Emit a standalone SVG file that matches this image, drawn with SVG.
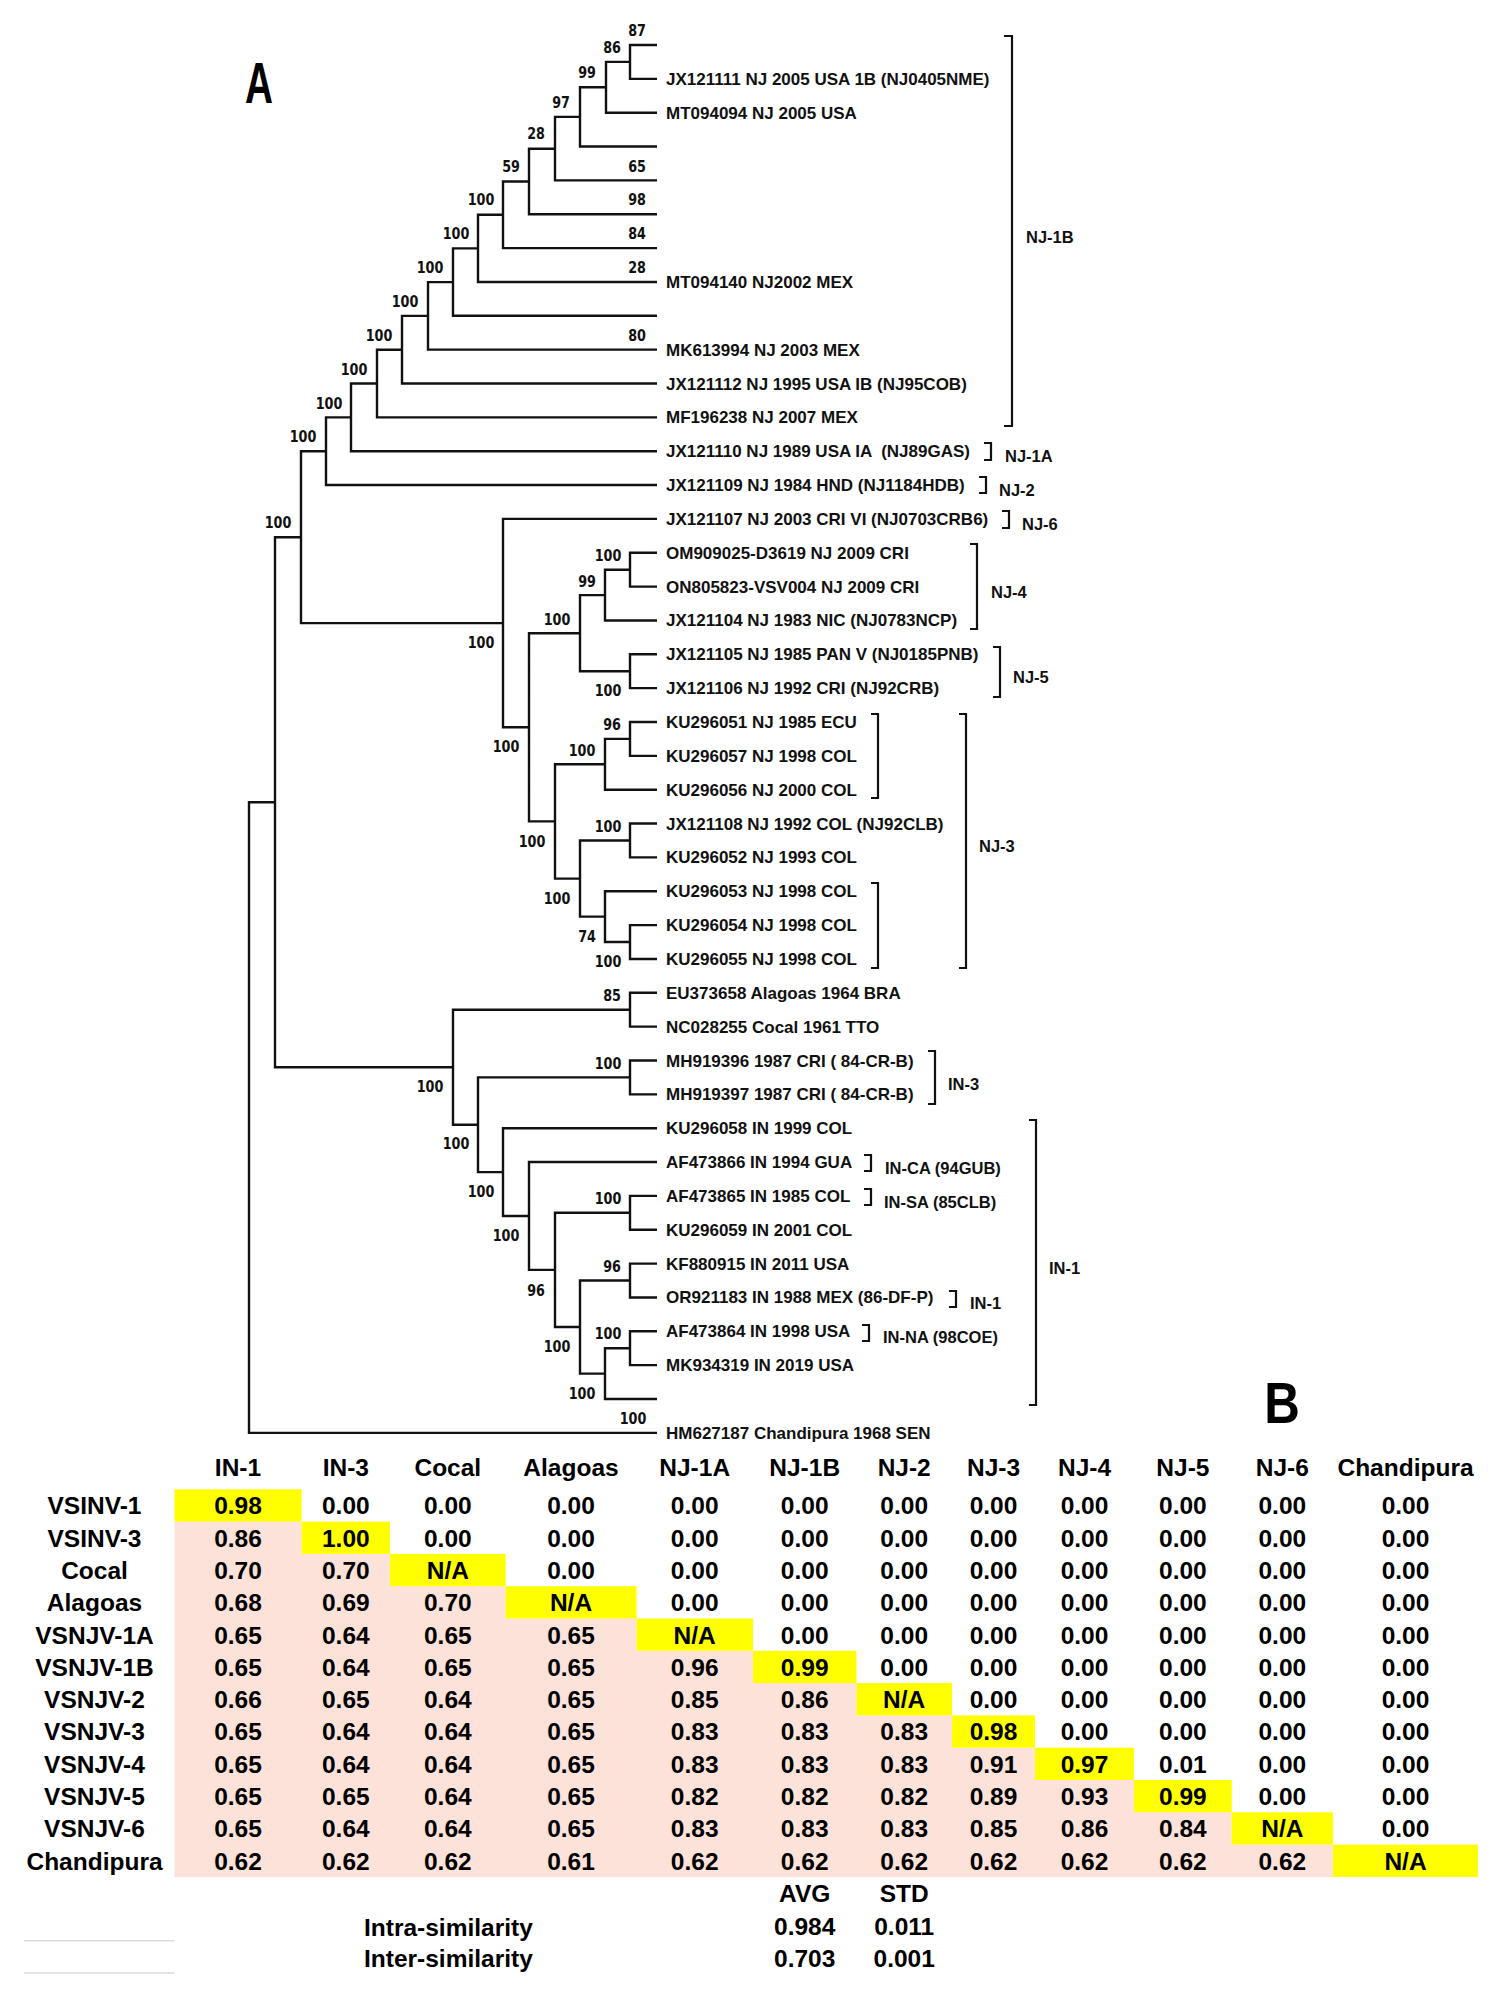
<svg xmlns="http://www.w3.org/2000/svg" width="1501" height="1998" viewBox="0 0 1501 1998">
<style>
.br{fill:none;stroke:#111;stroke-width:2.4;stroke-linejoin:miter}
.bk{fill:none;stroke:#111;stroke-width:2.2}
.lf{font-family:"Liberation Sans",Arial,sans-serif;font-weight:bold;font-size:17px;fill:#111;white-space:pre}
.bs{font-family:"DejaVu Sans",Verdana,sans-serif;font-weight:bold;font-size:16px;fill:#111;text-anchor:middle}
.gl{font-family:"Liberation Sans",Arial,sans-serif;font-weight:bold;font-size:16.5px;fill:#111}
.pl{font-family:"Liberation Sans",Arial,sans-serif;font-weight:bold;fill:#000;text-anchor:middle}
.t{font-family:"Liberation Sans",Arial,sans-serif;font-weight:bold;font-size:24.5px;fill:#000;text-anchor:middle}
</style>
<rect width="1501" height="1998" fill="#fff"/>
<text class="pl" font-size="57" transform="translate(259,103) scale(0.68,1)">A</text>
<text class="pl" font-size="58" transform="translate(1282,1423) scale(0.85,1)">B</text>

<g id="branches">
<path class="br" d="M657 45 H630 V78.85 H657
M630 61.9 H606 V112.7 H657
M606 87.3 H580 V146.55 H657
M580 116.9 H555 V180.4 H657
M555 148.7 H529 V214.25 H657
M529 181.5 H503 V248.1 H657
M503 214.8 H478 V281.95 H657
M478 248.4 H453 V315.8 H657
M453 282.1 H428 V349.65 H657
M428 315.9 H402 V383.5 H657
M402 349.7 H377 V417.35 H657
M377 383.5 H351 V451.2 H657
M351 417.4 H326 V485.05 H657
M326 451.2 H301 V623.1 H503
M657 518.9 H503 V727.3 H529
M580 633.2 H529 V821.4 H555
M605 595.1 H580 V671.2 H630
M630 569.7 H605 V620.45 H657
M657 552.75 H630 V586.6 H657
M657 654.3 H630 V688.15 H657
M605 764.3 H555 V878.6 H580
M630 738.9 H605 V789.7 H657
M657 722 H630 V755.85 H657
M630 840.5 H580 V916.6 H605
M657 823.55 H630 V857.4 H657
M657 891.25 H605 V942 H630
M657 925.1 H630 V958.95 H657
M301 537.2 H275 V1067.2 H453
M275 802.2 H249 V1432.85 H657
M630 1009.7 H453 V1124.8 H478
M657 992.8 H630 V1026.65 H657
M630 1077.4 H478 V1172.1 H503
M657 1060.5 H630 V1094.35 H657
M657 1128.2 H503 V1216 H529
M657 1162.05 H529 V1269.9 H555
M630 1212.8 H555 V1327 H580
M657 1195.9 H630 V1229.75 H657
M630 1280.5 H580 V1373.6 H605
M657 1263.6 H630 V1297.45 H657
M630 1348.2 H605 V1399 H657
M657 1331.3 H630 V1365.15 H657"/>
</g>

<g id="bootstrap">
<text class="bs" x="637" y="35.8" textLength="17.7" lengthAdjust="spacingAndGlyphs">87</text>
<text class="bs" x="612" y="52.8" textLength="17.7" lengthAdjust="spacingAndGlyphs">86</text>
<text class="bs" x="587" y="77.8" textLength="17.7" lengthAdjust="spacingAndGlyphs">99</text>
<text class="bs" x="561" y="107.8" textLength="17.7" lengthAdjust="spacingAndGlyphs">97</text>
<text class="bs" x="536" y="138.8" textLength="17.7" lengthAdjust="spacingAndGlyphs">28</text>
<text class="bs" x="637" y="171.8" textLength="17.7" lengthAdjust="spacingAndGlyphs">65</text>
<text class="bs" x="511" y="171.8" textLength="17.7" lengthAdjust="spacingAndGlyphs">59</text>
<text class="bs" x="637" y="204.8" textLength="17.7" lengthAdjust="spacingAndGlyphs">98</text>
<text class="bs" x="481" y="204.8" textLength="26.7" lengthAdjust="spacingAndGlyphs">100</text>
<text class="bs" x="637" y="238.8" textLength="17.7" lengthAdjust="spacingAndGlyphs">84</text>
<text class="bs" x="456" y="238.8" textLength="26.7" lengthAdjust="spacingAndGlyphs">100</text>
<text class="bs" x="637" y="272.8" textLength="17.7" lengthAdjust="spacingAndGlyphs">28</text>
<text class="bs" x="430" y="272.8" textLength="26.7" lengthAdjust="spacingAndGlyphs">100</text>
<text class="bs" x="405" y="306.8" textLength="26.7" lengthAdjust="spacingAndGlyphs">100</text>
<text class="bs" x="637" y="340.8" textLength="17.7" lengthAdjust="spacingAndGlyphs">80</text>
<text class="bs" x="379" y="340.8" textLength="26.7" lengthAdjust="spacingAndGlyphs">100</text>
<text class="bs" x="354" y="374.8" textLength="26.7" lengthAdjust="spacingAndGlyphs">100</text>
<text class="bs" x="329" y="408.8" textLength="26.7" lengthAdjust="spacingAndGlyphs">100</text>
<text class="bs" x="303" y="441.8" textLength="26.7" lengthAdjust="spacingAndGlyphs">100</text>
<text class="bs" x="278" y="527.8" textLength="26.7" lengthAdjust="spacingAndGlyphs">100</text>
<text class="bs" x="608" y="560.8" textLength="26.7" lengthAdjust="spacingAndGlyphs">100</text>
<text class="bs" x="587" y="586.8" textLength="17.7" lengthAdjust="spacingAndGlyphs">99</text>
<text class="bs" x="557" y="624.8" textLength="26.7" lengthAdjust="spacingAndGlyphs">100</text>
<text class="bs" x="481" y="647.8" textLength="26.7" lengthAdjust="spacingAndGlyphs">100</text>
<text class="bs" x="608" y="695.8" textLength="26.7" lengthAdjust="spacingAndGlyphs">100</text>
<text class="bs" x="612" y="729.8" textLength="17.7" lengthAdjust="spacingAndGlyphs">96</text>
<text class="bs" x="506" y="751.8" textLength="26.7" lengthAdjust="spacingAndGlyphs">100</text>
<text class="bs" x="582" y="755.8" textLength="26.7" lengthAdjust="spacingAndGlyphs">100</text>
<text class="bs" x="608" y="831.8" textLength="26.7" lengthAdjust="spacingAndGlyphs">100</text>
<text class="bs" x="532" y="846.8" textLength="26.7" lengthAdjust="spacingAndGlyphs">100</text>
<text class="bs" x="557" y="903.8" textLength="26.7" lengthAdjust="spacingAndGlyphs">100</text>
<text class="bs" x="587" y="941.8" textLength="17.7" lengthAdjust="spacingAndGlyphs">74</text>
<text class="bs" x="608" y="966.8" textLength="26.7" lengthAdjust="spacingAndGlyphs">100</text>
<text class="bs" x="612" y="1000.8" textLength="17.7" lengthAdjust="spacingAndGlyphs">85</text>
<text class="bs" x="608" y="1068.8" textLength="26.7" lengthAdjust="spacingAndGlyphs">100</text>
<text class="bs" x="430" y="1091.8" textLength="26.7" lengthAdjust="spacingAndGlyphs">100</text>
<text class="bs" x="456" y="1148.8" textLength="26.7" lengthAdjust="spacingAndGlyphs">100</text>
<text class="bs" x="481" y="1196.8" textLength="26.7" lengthAdjust="spacingAndGlyphs">100</text>
<text class="bs" x="608" y="1203.8" textLength="26.7" lengthAdjust="spacingAndGlyphs">100</text>
<text class="bs" x="506" y="1240.8" textLength="26.7" lengthAdjust="spacingAndGlyphs">100</text>
<text class="bs" x="612" y="1271.8" textLength="17.7" lengthAdjust="spacingAndGlyphs">96</text>
<text class="bs" x="536" y="1295.8" textLength="17.7" lengthAdjust="spacingAndGlyphs">96</text>
<text class="bs" x="608" y="1338.8" textLength="26.7" lengthAdjust="spacingAndGlyphs">100</text>
<text class="bs" x="557" y="1351.8" textLength="26.7" lengthAdjust="spacingAndGlyphs">100</text>
<text class="bs" x="582" y="1398.8" textLength="26.7" lengthAdjust="spacingAndGlyphs">100</text>
<text class="bs" x="633" y="1423.8" textLength="26.7" lengthAdjust="spacingAndGlyphs">100</text>
</g>

<g id="leaves">
<g id="leaf-JX121111"><text class="lf" x="666" y="84.85">JX121111 NJ 2005 USA 1B (NJ0405NME)</text></g>
<g id="leaf-MT094094"><text class="lf" x="666" y="118.7">MT094094 NJ 2005 USA</text></g>
<g id="leaf-MT094140"><text class="lf" x="666" y="287.95">MT094140 NJ2002 MEX</text></g>
<g id="leaf-MK613994"><text class="lf" x="666" y="355.65">MK613994 NJ 2003 MEX</text></g>
<g id="leaf-JX121112"><text class="lf" x="666" y="389.5">JX121112 NJ 1995 USA IB (NJ95COB)</text></g>
<g id="leaf-MF196238"><text class="lf" x="666" y="423.35">MF196238 NJ 2007 MEX</text></g>
<g id="leaf-JX121110"><text class="lf" x="666" y="457.2">JX121110 NJ 1989 USA IA  (NJ89GAS)</text></g>
<g id="leaf-JX121109"><text class="lf" x="666" y="491.05">JX121109 NJ 1984 HND (NJ1184HDB)</text></g>
<g id="leaf-JX121107"><text class="lf" x="666" y="524.9">JX121107 NJ 2003 CRI VI (NJ0703CRB6)</text></g>
<g id="leaf-OM909025"><text class="lf" x="666" y="558.75">OM909025-D3619 NJ 2009 CRI</text></g>
<g id="leaf-ON805823"><text class="lf" x="666" y="592.6">ON805823-VSV004 NJ 2009 CRI</text></g>
<g id="leaf-JX121104"><text class="lf" x="666" y="626.45">JX121104 NJ 1983 NIC (NJ0783NCP)</text></g>
<g id="leaf-JX121105"><text class="lf" x="666" y="660.3">JX121105 NJ 1985 PAN V (NJ0185PNB)</text></g>
<g id="leaf-JX121106"><text class="lf" x="666" y="694.15">JX121106 NJ 1992 CRI (NJ92CRB)</text></g>
<g id="leaf-KU296051"><text class="lf" x="666" y="728">KU296051 NJ 1985 ECU</text></g>
<g id="leaf-KU296057"><text class="lf" x="666" y="761.85">KU296057 NJ 1998 COL</text></g>
<g id="leaf-KU296056"><text class="lf" x="666" y="795.7">KU296056 NJ 2000 COL</text></g>
<g id="leaf-JX121108"><text class="lf" x="666" y="829.55">JX121108 NJ 1992 COL (NJ92CLB)</text></g>
<g id="leaf-KU296052"><text class="lf" x="666" y="863.4">KU296052 NJ 1993 COL</text></g>
<g id="leaf-KU296053"><text class="lf" x="666" y="897.25">KU296053 NJ 1998 COL</text></g>
<g id="leaf-KU296054"><text class="lf" x="666" y="931.1">KU296054 NJ 1998 COL</text></g>
<g id="leaf-KU296055"><text class="lf" x="666" y="964.95">KU296055 NJ 1998 COL</text></g>
<g id="leaf-EU373658"><text class="lf" x="666" y="998.8">EU373658 Alagoas 1964 BRA</text></g>
<g id="leaf-NC028255"><text class="lf" x="666" y="1032.65">NC028255 Cocal 1961 TTO</text></g>
<g id="leaf-MH919396"><text class="lf" x="666" y="1066.5">MH919396 1987 CRI ( 84-CR-B)</text></g>
<g id="leaf-MH919397"><text class="lf" x="666" y="1100.35">MH919397 1987 CRI ( 84-CR-B)</text></g>
<g id="leaf-KU296058"><text class="lf" x="666" y="1134.2">KU296058 IN 1999 COL</text></g>
<g id="leaf-AF473866"><text class="lf" x="666" y="1168.05">AF473866 IN 1994 GUA</text></g>
<g id="leaf-AF473865"><text class="lf" x="666" y="1201.9">AF473865 IN 1985 COL</text></g>
<g id="leaf-KU296059"><text class="lf" x="666" y="1235.75">KU296059 IN 2001 COL</text></g>
<g id="leaf-KF880915"><text class="lf" x="666" y="1269.6">KF880915 IN 2011 USA</text></g>
<g id="leaf-OR921183"><text class="lf" x="666" y="1303.45">OR921183 IN 1988 MEX (86-DF-P)</text></g>
<g id="leaf-AF473864"><text class="lf" x="666" y="1337.3">AF473864 IN 1998 USA</text></g>
<g id="leaf-MK934319"><text class="lf" x="666" y="1371.15">MK934319 IN 2019 USA</text></g>
<g id="leaf-HM627187"><text class="lf" x="666" y="1438.85">HM627187 Chandipura 1968 SEN</text></g>
</g>

<g id="groups">
<path class="bk" d="M1004 36 H1012 V426 H1004
M984 443 H991 V460 H984
M979 477 H986 V493 H979
M1002 511 H1009 V528 H1002
M970 544 H977 V629 H970
M993 647 H1000 V697 H993
M871 714 H878 V798 H871
M871 883 H878 V968 H871
M959 714 H966 V968 H959
M928 1051 H935 V1104 H928
M864 1155 H871 V1171 H864
M864 1189 H871 V1205 H864
M949 1291 H956 V1307 H949
M862 1325 H869 V1341 H862
M1029 1120 H1036 V1405 H1029"/>
<g id="grp-NJ-1B"><text class="gl" x="1026" y="243">NJ-1B</text></g>
<g id="grp-NJ-1A"><text class="gl" x="1005" y="462">NJ-1A</text></g>
<g id="grp-NJ-2"><text class="gl" x="999" y="496">NJ-2</text></g>
<g id="grp-NJ-6"><text class="gl" x="1022" y="530">NJ-6</text></g>
<g id="grp-NJ-4"><text class="gl" x="991" y="598">NJ-4</text></g>
<g id="grp-NJ-5"><text class="gl" x="1013" y="683">NJ-5</text></g>
<g id="grp-NJ-3"><text class="gl" x="979" y="852">NJ-3</text></g>
<g id="grp-IN-3"><text class="gl" x="948" y="1090">IN-3</text></g>
<g id="grp-IN-CA"><text class="gl" x="885" y="1174">IN-CA (94GUB)</text></g>
<g id="grp-IN-SA"><text class="gl" x="884" y="1207.5">IN-SA (85CLB)</text></g>
<g id="grp-IN-1-small"><text class="gl" x="970" y="1309">IN-1</text></g>
<g id="grp-IN-NA"><text class="gl" x="883" y="1343">IN-NA (98COE)</text></g>
<g id="grp-IN-1"><text class="gl" x="1049" y="1274">IN-1</text></g>
</g>

<g id="table">
<path fill="#FCE2D8" d="M174.5 1521.6 H301.5 V1553.9 H390 V1586.2 H505.6 V1618.5 H636.5 V1650.8 H753 V1683.1 H856.5 V1715.4 H952 V1747.7 H1035 V1780 H1134 V1812.3 H1231.7 V1844.6 H1333 V1876.9 H174.5 Z"/>
<g fill="#FFFF00">
<rect x="174.5" y="1489.3" width="127" height="32.3"/>
<rect x="301.5" y="1521.6" width="88.5" height="32.3"/>
<rect x="390" y="1553.9" width="115.6" height="32.3"/>
<rect x="505.6" y="1586.2" width="130.9" height="32.3"/>
<rect x="636.5" y="1618.5" width="116.5" height="32.3"/>
<rect x="753" y="1650.8" width="103.5" height="32.3"/>
<rect x="856.5" y="1683.1" width="95.5" height="32.3"/>
<rect x="952" y="1715.4" width="83" height="32.3"/>
<rect x="1035" y="1747.7" width="99" height="32.3"/>
<rect x="1134" y="1780" width="97.7" height="32.3"/>
<rect x="1231.7" y="1812.3" width="101.3" height="32.3"/>
<rect x="1333" y="1844.6" width="145" height="32.3"/>
</g>
<g id="col-headers">
<text class="t" x="238" y="1475.5">IN-1</text>
<text class="t" x="345.8" y="1475.5">IN-3</text>
<text class="t" x="447.8" y="1475.5">Cocal</text>
<text class="t" x="571" y="1475.5">Alagoas</text>
<text class="t" x="694.7" y="1475.5">NJ-1A</text>
<text class="t" x="804.7" y="1475.5">NJ-1B</text>
<text class="t" x="904.2" y="1475.5">NJ-2</text>
<text class="t" x="993.5" y="1475.5">NJ-3</text>
<text class="t" x="1084.5" y="1475.5">NJ-4</text>
<text class="t" x="1182.9" y="1475.5">NJ-5</text>
<text class="t" x="1282.3" y="1475.5">NJ-6</text>
<text class="t" x="1405.5" y="1475.5">Chandipura</text>
</g>
<g id="row-headers">
<text class="t" x="94.5" y="1514.3">VSINV-1</text>
<text class="t" x="94.5" y="1546.6">VSINV-3</text>
<text class="t" x="94.5" y="1578.9">Cocal</text>
<text class="t" x="94.5" y="1611.2">Alagoas</text>
<text class="t" x="94.5" y="1643.5">VSNJV-1A</text>
<text class="t" x="94.5" y="1675.8">VSNJV-1B</text>
<text class="t" x="94.5" y="1708.1">VSNJV-2</text>
<text class="t" x="94.5" y="1740.4">VSNJV-3</text>
<text class="t" x="94.5" y="1772.7">VSNJV-4</text>
<text class="t" x="94.5" y="1805">VSNJV-5</text>
<text class="t" x="94.5" y="1837.3">VSNJV-6</text>
<text class="t" x="94.5" y="1869.6">Chandipura</text>
</g>
<g id="cells">
<text class="t" y="1514.3"><tspan x="238">0.98</tspan><tspan x="345.8">0.00</tspan><tspan x="447.8">0.00</tspan><tspan x="571">0.00</tspan><tspan x="694.7">0.00</tspan><tspan x="804.7">0.00</tspan><tspan x="904.2">0.00</tspan><tspan x="993.5">0.00</tspan><tspan x="1084.5">0.00</tspan><tspan x="1182.9">0.00</tspan><tspan x="1282.3">0.00</tspan><tspan x="1405.5">0.00</tspan></text>
<text class="t" y="1546.6"><tspan x="238">0.86</tspan><tspan x="345.8">1.00</tspan><tspan x="447.8">0.00</tspan><tspan x="571">0.00</tspan><tspan x="694.7">0.00</tspan><tspan x="804.7">0.00</tspan><tspan x="904.2">0.00</tspan><tspan x="993.5">0.00</tspan><tspan x="1084.5">0.00</tspan><tspan x="1182.9">0.00</tspan><tspan x="1282.3">0.00</tspan><tspan x="1405.5">0.00</tspan></text>
<text class="t" y="1578.9"><tspan x="238">0.70</tspan><tspan x="345.8">0.70</tspan><tspan x="447.8">N/A</tspan><tspan x="571">0.00</tspan><tspan x="694.7">0.00</tspan><tspan x="804.7">0.00</tspan><tspan x="904.2">0.00</tspan><tspan x="993.5">0.00</tspan><tspan x="1084.5">0.00</tspan><tspan x="1182.9">0.00</tspan><tspan x="1282.3">0.00</tspan><tspan x="1405.5">0.00</tspan></text>
<text class="t" y="1611.2"><tspan x="238">0.68</tspan><tspan x="345.8">0.69</tspan><tspan x="447.8">0.70</tspan><tspan x="571">N/A</tspan><tspan x="694.7">0.00</tspan><tspan x="804.7">0.00</tspan><tspan x="904.2">0.00</tspan><tspan x="993.5">0.00</tspan><tspan x="1084.5">0.00</tspan><tspan x="1182.9">0.00</tspan><tspan x="1282.3">0.00</tspan><tspan x="1405.5">0.00</tspan></text>
<text class="t" y="1643.5"><tspan x="238">0.65</tspan><tspan x="345.8">0.64</tspan><tspan x="447.8">0.65</tspan><tspan x="571">0.65</tspan><tspan x="694.7">N/A</tspan><tspan x="804.7">0.00</tspan><tspan x="904.2">0.00</tspan><tspan x="993.5">0.00</tspan><tspan x="1084.5">0.00</tspan><tspan x="1182.9">0.00</tspan><tspan x="1282.3">0.00</tspan><tspan x="1405.5">0.00</tspan></text>
<text class="t" y="1675.8"><tspan x="238">0.65</tspan><tspan x="345.8">0.64</tspan><tspan x="447.8">0.65</tspan><tspan x="571">0.65</tspan><tspan x="694.7">0.96</tspan><tspan x="804.7">0.99</tspan><tspan x="904.2">0.00</tspan><tspan x="993.5">0.00</tspan><tspan x="1084.5">0.00</tspan><tspan x="1182.9">0.00</tspan><tspan x="1282.3">0.00</tspan><tspan x="1405.5">0.00</tspan></text>
<text class="t" y="1708.1"><tspan x="238">0.66</tspan><tspan x="345.8">0.65</tspan><tspan x="447.8">0.64</tspan><tspan x="571">0.65</tspan><tspan x="694.7">0.85</tspan><tspan x="804.7">0.86</tspan><tspan x="904.2">N/A</tspan><tspan x="993.5">0.00</tspan><tspan x="1084.5">0.00</tspan><tspan x="1182.9">0.00</tspan><tspan x="1282.3">0.00</tspan><tspan x="1405.5">0.00</tspan></text>
<text class="t" y="1740.4"><tspan x="238">0.65</tspan><tspan x="345.8">0.64</tspan><tspan x="447.8">0.64</tspan><tspan x="571">0.65</tspan><tspan x="694.7">0.83</tspan><tspan x="804.7">0.83</tspan><tspan x="904.2">0.83</tspan><tspan x="993.5">0.98</tspan><tspan x="1084.5">0.00</tspan><tspan x="1182.9">0.00</tspan><tspan x="1282.3">0.00</tspan><tspan x="1405.5">0.00</tspan></text>
<text class="t" y="1772.7"><tspan x="238">0.65</tspan><tspan x="345.8">0.64</tspan><tspan x="447.8">0.64</tspan><tspan x="571">0.65</tspan><tspan x="694.7">0.83</tspan><tspan x="804.7">0.83</tspan><tspan x="904.2">0.83</tspan><tspan x="993.5">0.91</tspan><tspan x="1084.5">0.97</tspan><tspan x="1182.9">0.01</tspan><tspan x="1282.3">0.00</tspan><tspan x="1405.5">0.00</tspan></text>
<text class="t" y="1805"><tspan x="238">0.65</tspan><tspan x="345.8">0.65</tspan><tspan x="447.8">0.64</tspan><tspan x="571">0.65</tspan><tspan x="694.7">0.82</tspan><tspan x="804.7">0.82</tspan><tspan x="904.2">0.82</tspan><tspan x="993.5">0.89</tspan><tspan x="1084.5">0.93</tspan><tspan x="1182.9">0.99</tspan><tspan x="1282.3">0.00</tspan><tspan x="1405.5">0.00</tspan></text>
<text class="t" y="1837.3"><tspan x="238">0.65</tspan><tspan x="345.8">0.64</tspan><tspan x="447.8">0.64</tspan><tspan x="571">0.65</tspan><tspan x="694.7">0.83</tspan><tspan x="804.7">0.83</tspan><tspan x="904.2">0.83</tspan><tspan x="993.5">0.85</tspan><tspan x="1084.5">0.86</tspan><tspan x="1182.9">0.84</tspan><tspan x="1282.3">N/A</tspan><tspan x="1405.5">0.00</tspan></text>
<text class="t" y="1869.6"><tspan x="238">0.62</tspan><tspan x="345.8">0.62</tspan><tspan x="447.8">0.62</tspan><tspan x="571">0.61</tspan><tspan x="694.7">0.62</tspan><tspan x="804.7">0.62</tspan><tspan x="904.2">0.62</tspan><tspan x="993.5">0.62</tspan><tspan x="1084.5">0.62</tspan><tspan x="1182.9">0.62</tspan><tspan x="1282.3">0.62</tspan><tspan x="1405.5">N/A</tspan></text>
</g>
<g id="summary">
<text class="t" x="804.7" y="1901.8">AVG</text>
<text class="t" x="904.2" y="1901.8">STD</text>
<text class="t" x="448.4" y="1935.5">Intra-similarity</text>
<text class="t" x="804.7" y="1934.8">0.984</text>
<text class="t" x="904.2" y="1934.8">0.011</text>
<text class="t" x="448.4" y="1966.8">Inter-similarity</text>
<text class="t" x="804.7" y="1966.8">0.703</text>
<text class="t" x="904.2" y="1966.8">0.001</text>
<path d="M24 1940.7 H174.5 M24 1973 H174.5" stroke="#dcdcdc" stroke-width="1.5" fill="none"/>
</g>
</g>
</svg>
